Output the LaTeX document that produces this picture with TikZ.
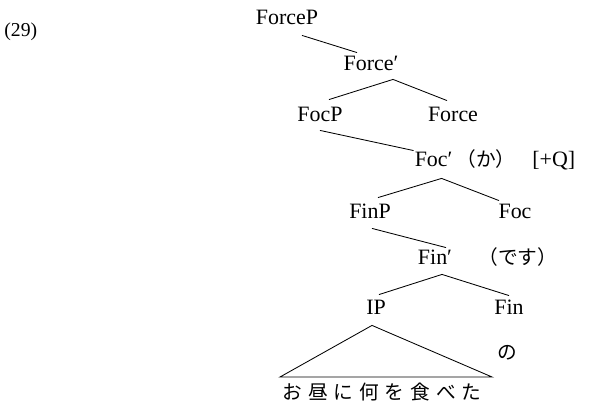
\documentclass[tikz,border=0pt]{standalone}
\usepackage{fontspec}
\setmainfont{Liberation Serif}
\newfontfamily\jfont{Noto Sans CJK JP}
\newfontfamily\jspread{Noto Sans CJK JP}[LetterSpace=30]
\usetikzlibrary{calc}
\tikzset{
    lbl/.style={inner sep=0pt, anchor=base, text height=0.4cm, text depth=0.1cm,
        font=\fontsize{15.6}{18}\selectfont},
    jlbl/.style={inner sep=0pt, anchor=base west, font=\fontsize{14}{16}\selectfont\jfont}
}

\begin{document}
\begin{tikzpicture}[line width=0.6pt]
        \useasboundingbox (0,0) rectangle (14.9,10.425);

        \draw (0.1,9.5) node[inner sep=0pt, anchor=base west, font=\fontsize{14}{16}\selectfont](ex){(29)};

        \draw (7.175,9.8) node[lbl](ForceP){ForceP};
        \draw (9.275,8.65) node[lbl](Forcebar){Force′};
        \draw (8.0,7.375) node[lbl](FocP){FocP};
        \draw (11.325,7.375) node[lbl](Force){Force};
        \draw (10.84,6.25) node[lbl](Focbar){Foc′};
        \draw (11.4,6.25) node[jlbl](ka){（か）};
        \draw (13.3,6.25) node[lbl, anchor=base west](Q){[+Q]};
        \draw (9.25,4.95) node[lbl](FinP){FinP};
        \draw (12.875,4.95) node[lbl](Foc){Foc};
        \draw (10.875,3.8) node[lbl](Finbar){Fin′};
        \draw (11.95,3.8) node[jlbl](desu){（です）};
        \draw (9.4,2.55) node[lbl](IP){IP};
        \draw (12.725,2.55) node[lbl](Fin){Fin};
        \draw (12.425,1.425) node[jlbl](no){の};
        \draw (9.55,0.625) node[inner sep=0pt, font=\fontsize{14}{16}\selectfont\jspread](sent){お昼に何を食べた};

        \coordinate (IPl) at (7.0,1.0);
        \coordinate (IPr) at (12.3,1.0);

        \draw ($(ForceP.south)+(0.375,-0.15)$) to ($(Forcebar.north)+(-0.35,0.05)$);
        \draw ($(FocP.north)+(0.225,0.15)$) -- ($(Forcebar.south)+(0.55,-0.1)$) -- ($(Force.north)+(-0.15,0.125)$);
        \draw ($(FocP.south)+(0,-0.1)$) to ($(Focbar.north)+(-0.5,0)$);
        \draw ($(FinP.north)+(0.2,0.125)$) -- ($(Focbar.south)+(0.2,-0.175)$) -- ($(Foc.north)+(-0.4,0.05)$);
        \draw ($(FinP.south)+(0.05,-0.125)$) to ($(Finbar.north)+(0.275,0.025)$);
        \draw ($(IP.north)+(0.075,0.1)$) -- ($(Finbar.south)+(0.175,-0.125)$) -- ($(Fin.north)+(0,0.075)$);
        \draw (IPl) -- ($(IP.south)+(-0.1,-0.15)$) -- (IPr) -- cycle;
    \end{tikzpicture}
\end{document}
